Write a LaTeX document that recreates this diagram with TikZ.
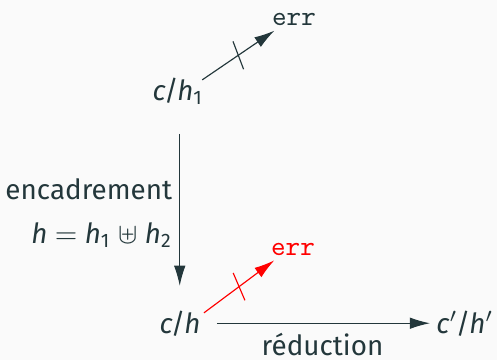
\documentclass[tikz,border=0pt]{standalone}
\usepackage{fontspec}
\setmainfont{Fira Sans}
\usetikzlibrary{arrows.meta, decorations.markings}
\definecolor{fgdark}{HTML}{23373B}
\definecolor{bglight}{HTML}{FAFAFA}
\newcommand{\mi}[1]{\textit{#1}}
\newcommand{\slsep}{\kern-0.6pt/\kern-0.4pt}

\begin{document}
\begin{tikzpicture}[x=0.345pt, y=-0.345pt,
    font=\fontsize{9.6pt}{11pt}\selectfont\color{fgdark},
    arr/.style={-{Latex[length=7pt, width=4pt]}, fgdark, thin},
    crossed/.style={postaction={decorate},
      decoration={markings, mark=at position 0.5 with
        {\draw[-] (-1.2pt,-5pt) -- (1.2pt,5pt);}}},
    lbl/.style={inner sep=0pt, anchor=base}]
    % --- page ---
    \fill[bglight] (0,0) rectangle (497,360);
    \useasboundingbox (0,0) rectangle (497,360);
    % --- configurations ---
    \node[lbl] (ch1) at (178,100) {\mi{c}\slsep\mi{h}\textsubscript{1}};
    \node[lbl] (errA) at (294,25) {\texttt{err}};
    \node[lbl] (ch) at (180,333) {\mi{c}\slsep\mi{h}};
    \node[lbl, red] (errB) at (293,255) {\texttt{err}};
    \node[lbl] (cph) at (465,333) {\mi{c}$'$\slsep\mi{h}$'$};
    % --- failing steps ---
    \draw[arr, crossed] ([xshift=-0.6pt, yshift=-1pt]ch1.north east)
      -- ([xshift=1pt, yshift=-1.7pt]errA.south west);
    \draw[arr, crossed, red] ([xshift=1pt, yshift=-1pt]ch.north east)
      -- ([xshift=1.3pt, yshift=-1.6pt]errB.south west);
    % --- framing ---
    \draw[arr, shorten <=10pt, shorten >=8.3pt] ([xshift=0.6pt]ch1.south)
      -- ([xshift=0.6pt]ch1.south |- ch.north)
      node[midway, left, align=right, inner sep=2.4pt, yshift=-2pt]
      {encadrement\\[4pt] \mi{h} $=$ \mi{h}\textsubscript{1} $\uplus$ \mi{h}\textsubscript{2}};
    % --- reduction ---
    \draw[arr, shorten <=5.5pt, shorten >=2pt] (ch.east) -- (ch.east -| cph.west)
      node[midway, anchor=base, inner sep=0pt, xshift=1.4pt, yshift=-11pt] {réduction};
  \end{tikzpicture}
\end{document}
